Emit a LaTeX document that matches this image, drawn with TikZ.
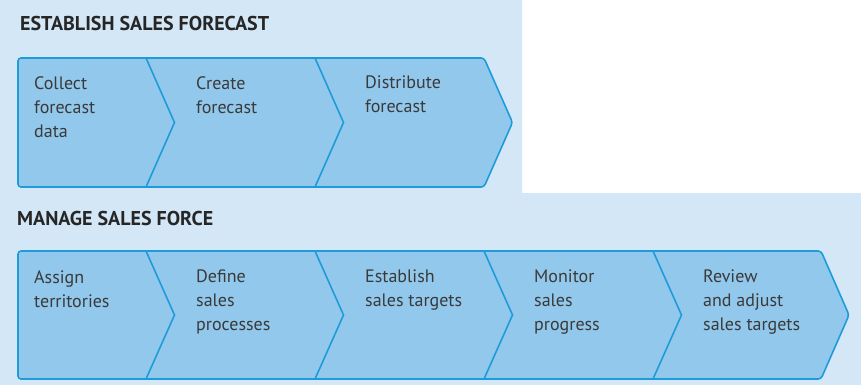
\documentclass[tikz,border=0pt]{standalone}
\usepackage{fontspec}
\setmainfont{PT Sans}
\usepackage{xcolor}
\usetikzlibrary{positioning}
\definecolor{panelbg}{RGB}{211,231,246}
\definecolor{chevfill}{RGB}{146,200,236}
\definecolor{chevline}{RGB}{30,155,219}
\definecolor{textgray}{RGB}{58,58,58}

\begin{document}
\begin{tikzpicture}[
  x=1pt, y=-1pt,
  heading/.style={anchor=north west, inner sep=0pt, font=\bfseries\fontsize{20}{24}\selectfont, text=black!85},
  stepbox/.style={anchor=north west, inner sep=0pt, align=left, font=\fontsize{18}{24}\selectfont, text=textgray},
  band/.style={draw=chevline, line width=1.6pt, fill=chevfill, rounded corners=3pt, line join=round},
  divider/.style={draw=chevline, line width=1.6pt}
]
\useasboundingbox (0,0) rectangle (861,385);

% light panels
\fill[panelbg] (0,0) -- (522,0) -- (522,193) -- (861,193) -- (861,385) -- (0,385) -- cycle;

% sales forecast
\node[heading] (fchead) at (20,16.5) {ESTABLISH SALES FORECAST};
\draw[band] (18,58) -- (484,58) -- (512.5,122.5) -- (484,187) -- (18,187) -- cycle;
\draw[divider] (146,58) -- (174.5,122.5) -- (146,187);
\draw[divider] (315,58) -- (343.5,122.5) -- (315,187);

\node[stepbox] (collect) at (34,76) {Collect\\forecast\\data};
\node[stepbox] (create) at (196,76) {Create\\forecast};
\node[stepbox] (distrib) at (365,76) {Distribute\\forecast};

% sales force
\node[heading] (sfhead) at (17,211) {MANAGE SALES FORCE};
\draw[band] (18,251) -- (821,251) -- (849,315) -- (821,379) -- (18,379) -- cycle;
\draw[divider] (146,251) -- (174.5,315) -- (146,379);
\draw[divider] (315,251) -- (343.5,315) -- (315,379);
\draw[divider] (484,251) -- (512.5,315) -- (484,379);
\draw[divider] (653,251) -- (681.5,315) -- (653,379);

\node[stepbox] (assign) at (34,270) {Assign\\territories};
\node[stepbox] (define) at (196,270) {Define\\sales\\processes};
\node[stepbox] (targets) at (365,270) {Establish\\sales targets};
\node[stepbox] (monitor) at (534,270) {Monitor\\sales\\progress};
\node[stepbox] (review) at (703,270) {Review\\and adjust\\sales targets};

\end{tikzpicture}
\end{document}
